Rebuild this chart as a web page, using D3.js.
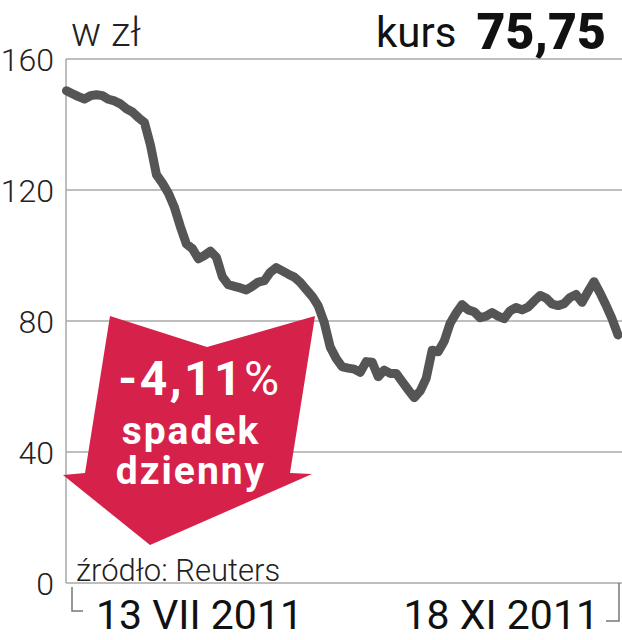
<!DOCTYPE html>
<html>
<head>
<meta charset="utf-8">
<script src="https://cdn.jsdelivr.net/npm/d3@7"></script>
<style>
  html, body { margin: 0; padding: 0; background: #fff; }
  svg { display: block; }
  text { font-family: Roboto, "Noto Sans", sans-serif; }
</style>
</head>
<body>
<svg id="chart" width="622" height="640"></svg>
<script>
// ---- data ----
const yTicks = [0, 40, 80, 120, 160];
const xLabels = ["13 VII 2011", "18 XI 2011"];
const unitLabel = "w zł";
const lastLabel = "kurs";
const lastValue = "75,75";
const changeLabel = ["-4,11", "%"];
const changeText = ["spadek", "dzienny"];
const sourceLabel = "źródło: Reuters";
// daily closing prices (evenly spaced sessions)
const prices = [
  150.3, 149.4, 148.5, 147.8, 148.8, 149.1, 148.8, 147.7, 147.2, 146.3,
  144.8, 143.8, 142.1, 140.6, 133.8, 124.7, 122.1, 119.0, 114.7, 108.8,
  103.5, 102.1, 99.0, 100.0, 101.3, 99.5, 93.5, 91.1, 90.6, 90.1,
  89.5, 90.6, 91.9, 92.3, 94.9, 96.3, 95.3, 94.3, 93.4, 91.8,
  89.6, 87.5, 84.6, 79.5, 72.0, 68.5, 66.0, 65.6, 65.3, 64.3,
  67.6, 67.4, 63.0, 65.0, 64.0, 64.0, 61.5, 59.0, 56.6, 58.6,
  62.5, 71.1, 70.6, 73.8, 79.3, 82.4, 85.0, 83.4, 82.8, 81.0,
  81.5, 82.6, 81.5, 80.7, 83.1, 84.1, 83.4, 84.2, 86.1, 87.8,
  87.0, 85.2, 84.7, 85.3, 87.2, 88.1, 85.7, 89.0, 92.0, 88.6,
  84.8, 80.7, 75.75
];

// ---- layout ----
const svg = d3.select("#chart");
const plot = { left: 66, right: 619, top: 59, bottom: 583 };
const x = d3.scaleLinear().domain([0, prices.length - 1]).range([66.5, 618]);
const y = d3.scaleLinear().domain([0, 160]).range([plot.bottom, plot.top]);

const gridColor = "#a8a8a8";
const lineColor = "#555555";
const red = "#d6214a";

// grid lines
svg.append("g").selectAll("line").data(yTicks).join("line")
  .attr("x1", plot.left).attr("x2", 622)
  .attr("y1", d => y(d)).attr("y2", d => y(d))
  .attr("stroke", gridColor).attr("stroke-width", 1.5);

// y axis vertical line
svg.append("line")
  .attr("x1", plot.left).attr("x2", plot.left)
  .attr("y1", y(160)).attr("y2", y(0))
  .attr("stroke", gridColor).attr("stroke-width", 1.5);

// y tick labels
svg.append("g").selectAll("text").data(yTicks).join("text")
  .attr("x", 54).attr("y", d => y(d) + 11.5)
  .attr("text-anchor", "end")
  .attr("font-size", 32).attr("font-weight", 300)
  .attr("fill", "#222")
  .text(d => d);

// header
svg.append("text").attr("x", 71).attr("y", 46)
  .attr("font-size", 40).attr("font-weight", 300).attr("fill", "#222")
  .text(unitLabel);
svg.append("text").attr("x", 376).attr("y", 47)
  .attr("font-size", 42).attr("font-weight", 400).attr("fill", "#111")
  .text(lastLabel);
svg.append("text").attr("x", 606).attr("y", 49)
  .attr("text-anchor", "end")
  .attr("font-size", 50).attr("font-weight", 900).attr("fill", "#111")
  .text(lastValue);

// red arrow annotation
const arrowPts = [[110,316],[207,347],[315,316],[290,473],[312,474],[150,545],[63,475],[85,473]];
svg.append("path")
  .attr("d", d3.line()(arrowPts) + "Z")
  .attr("fill", red);

const t1 = svg.append("text").attr("x", 200).attr("y", 395)
  .attr("text-anchor", "middle").attr("fill", "#fff")
  .attr("font-size", 48).attr("font-weight", 700).attr("letter-spacing", 2.5);
t1.append("tspan").text(changeLabel[0]);
t1.append("tspan").attr("font-weight", 400).text(changeLabel[1]);
svg.append("g").selectAll("text").data(changeText).join("text")
  .attr("x", 191).attr("y", (d, i) => 444 + i * 40)
  .attr("text-anchor", "middle").attr("fill", "#fff")
  .attr("font-size", 39).attr("font-weight", 700).attr("letter-spacing", 2)
  .text(d => d);

// price line
svg.append("path")
  .datum(prices)
  .attr("d", d3.line().x((d, i) => x(i)).y(d => y(d)))
  .attr("fill", "none")
  .attr("stroke", lineColor)
  .attr("stroke-width", 9)
  .attr("stroke-linejoin", "round")
  .attr("stroke-linecap", "round");

// source
svg.append("text").attr("x", 76).attr("y", 581)
  .attr("font-size", 31).attr("font-weight", 300).attr("fill", "#222")
  .text(sourceLabel);

// bottom brackets and date labels
svg.append("path").attr("d", "M72,587V611H83")
  .attr("fill", "none").attr("stroke", "#777").attr("stroke-width", 1.5);
svg.append("path").attr("d", "M606,621H619V583")
  .attr("fill", "none").attr("stroke", "#777").attr("stroke-width", 1.5);
svg.append("text").attr("x", 96).attr("y", 629)
  .attr("font-size", 41).attr("font-weight", 400).attr("fill", "#111")
  .text(xLabels[0]);
svg.append("text").attr("x", 599).attr("y", 629)
  .attr("text-anchor", "end")
  .attr("font-size", 41).attr("font-weight", 400).attr("fill", "#111")
  .text(xLabels[1]);
</script>
</body>
</html>
